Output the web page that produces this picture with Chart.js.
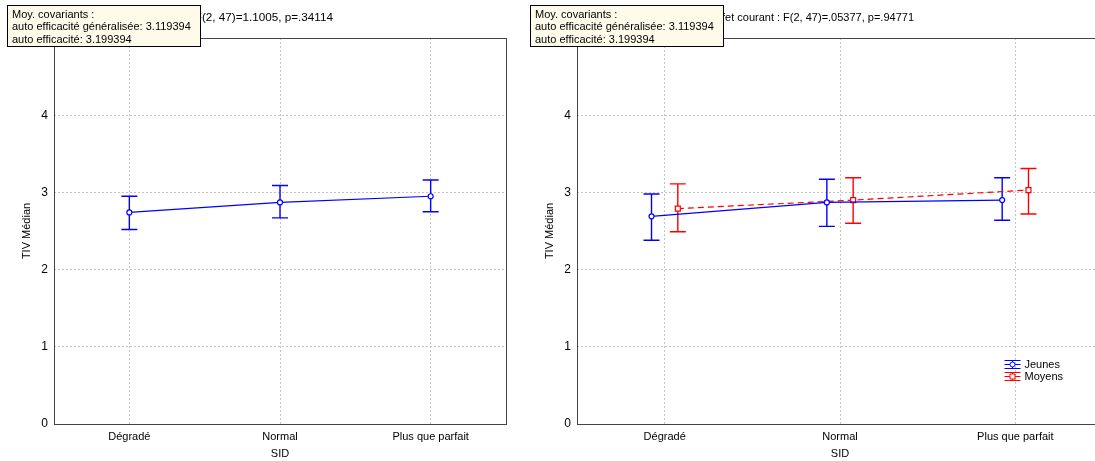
<!DOCTYPE html>
<html>
<head>
<meta charset="utf-8">
<script src="https://cdn.jsdelivr.net/npm/chart.js@4.4.0/dist/chart.umd.min.js"></script>
<style>
html, body { margin: 0; padding: 0; background: #fff; overflow: hidden; width: 1095px; height: 461px; }
#left { position: absolute; left: 0; top: 0; }
#right { position: absolute; left: 523px; top: 0; }
</style>
</head>
<body>
<canvas id="left" width="523" height="461"></canvas>
<canvas id="right" width="587" height="461"></canvas>
<script>
'use strict';

var categories = ['Dégradé', 'Normal', 'Plus que parfait'];
var yTicks = [0, 1, 2, 3, 4];

// left panel: all subjects
var allMean = [2.74, 2.87, 2.95];
var allLow = [2.52, 2.67, 2.75];
var allHigh = [2.95, 3.09, 3.16];

// right panel: by age group
var groupLabels = ['Jeunes', 'Moyens'];
var jeunesMean = [2.69, 2.87, 2.90];
var jeunesLow = [2.38, 2.56, 2.64];
var jeunesHigh = [2.98, 3.17, 3.19];
var moyensMean = [2.79, 2.90, 3.03];
var moyensLow = [2.49, 2.60, 2.72];
var moyensHigh = [3.11, 3.19, 3.31];

var covariateLines = ['Moy. covariants :', 'auto efficacité généralisée: 3.119394', 'auto efficacité: 3.199394'];
var leftTitle = 'Effet courant : F(2, 47)=1.1005, p=.34114';
var rightTitle = 'Effet courant : F(2, 47)=.05377, p=.94771';

var FONT = '"Liberation Sans", Arial, sans-serif';
var font11 = { family: FONT, size: 11 };
var BLUE = '#0000ff';
var RED = '#ff0000';

function toPoints(means, shift) {
    return means.map(function(v, i) { return { x: i + shift, y: v }; });
}

// frame, error bars, title, covariate box and legend
var statPlugin = {
    id: 'statBits',
    beforeDatasetsDraw: function(chart) {
        var ctx = chart.ctx, a = chart.chartArea, yS = chart.scales.y;
        ctx.save();
        ctx.strokeStyle = '#454545';
        ctx.lineWidth = 1;
        ctx.strokeRect(Math.round(a.left) + 0.5, Math.round(a.top) + 0.5,
            Math.round(a.right - a.left), Math.round(a.bottom - a.top));
        chart.data.datasets.forEach(function(ds, di) {
            var meta = chart.getDatasetMeta(di);
            ctx.strokeStyle = ds.borderColor;
            ctx.lineWidth = 1.4;
            meta.data.forEach(function(pt, i) {
                var x = pt.x;
                var yl = yS.getPixelForValue(ds.errLow[i]);
                var yh = yS.getPixelForValue(ds.errHigh[i]);
                ctx.beginPath();
                ctx.moveTo(x, yl); ctx.lineTo(x, yh);
                ctx.moveTo(x - 8, yl); ctx.lineTo(x + 8, yl);
                ctx.moveTo(x - 8, yh); ctx.lineTo(x + 8, yh);
                ctx.stroke();
            });
        });
        ctx.restore();
    },
    afterDraw: function(chart, args, opts) {
        var ctx = chart.ctx, a = chart.chartArea;
        ctx.save();
        ctx.font = opts.titleSize + 'px ' + FONT;
        ctx.fillStyle = '#000';
        ctx.textBaseline = 'middle';
        ctx.textAlign = 'right';
        ctx.fillText(opts.title, a.left + opts.titleRight, 18);

        ctx.font = '11px ' + FONT;
        ctx.fillStyle = '#fffbea';
        ctx.fillRect(7, 5, 193, 41);
        ctx.strokeStyle = '#000';
        ctx.lineWidth = 1;
        ctx.strokeRect(7.5, 5.5, 193, 41);
        ctx.fillStyle = '#000';
        ctx.textAlign = 'left';
        covariateLines.forEach(function(t, i) {
            ctx.fillText(t, 12, 15 + i * 12.3);
        });

        if (opts.legend) {
            var cx = Math.round(a.right - 91) + 0.5;
            chart.data.datasets.forEach(function(ds, i) {
                var cy = Math.round(a.bottom - 60 + i * 11.5) + 0.5;
                ctx.strokeStyle = ds.borderColor;
                ctx.beginPath();
                ctx.moveTo(cx - 8, cy - 4); ctx.lineTo(cx + 8, cy - 4);
                ctx.moveTo(cx - 8, cy + 4); ctx.lineTo(cx + 8, cy + 4);
                ctx.moveTo(cx, cy - 4); ctx.lineTo(cx, cy + 4);
                ctx.stroke();
                ctx.setLineDash(ds.borderDash || []);
                ctx.beginPath();
                ctx.moveTo(cx - 8, cy); ctx.lineTo(cx + 8, cy);
                ctx.stroke();
                ctx.setLineDash([]);
                ctx.fillStyle = '#fff';
                ctx.beginPath();
                if (ds.pointStyle === 'rect') ctx.rect(cx - 2.5, cy - 2.5, 5, 5);
                else ctx.arc(cx, cy, 2.5, 0, Math.PI * 2);
                ctx.fill(); ctx.stroke();
                ctx.fillStyle = '#000';
                ctx.fillText(ds.label, cx + 12, cy);
            });
        }
        ctx.restore();
    }
};

function makeChart(id, datasets, padRight, opts) {
    return new Chart(document.getElementById(id).getContext('2d'), {
        type: 'line',
        data: { datasets: datasets },
        plugins: [statPlugin],
        options: {
            responsive: false,
            animation: false,
            devicePixelRatio: 1,
            layout: { padding: { top: 38, right: padRight, left: 0, bottom: 0 } },
            plugins: { legend: { display: false }, tooltip: { enabled: false }, statBits: opts },
            scales: {
                x: {
                    type: 'linear', min: -0.5, max: 2.5,
                    afterBuildTicks: function(s) { s.ticks = categories.map(function(c, i) { return { value: i }; }); },
                    afterFit: function(s) { s.height = 37; },
                    ticks: { callback: function(v) { return categories[v]; }, font: font11, color: '#000', padding: 6, maxRotation: 0, autoSkip: false },
                    grid: { color: '#c4c4c4', drawTicks: false, lineWidth: 1 },
                    border: { display: false, dash: [2, 2] },
                    title: { display: true, text: 'SID', font: font11, color: '#000', padding: { top: 0, bottom: 0 } }
                },
                y: {
                    min: 0, max: 5,
                    afterBuildTicks: function(s) { s.ticks = yTicks.map(function(v) { return { value: v }; }); },
                    afterFit: function(s) { s.width = 54; },
                    ticks: { font: { family: FONT, size: 12 }, color: '#000', padding: 6 },
                    grid: { color: '#c4c4c4', drawTicks: false, lineWidth: 1 },
                    border: { display: false, dash: [2, 2] },
                    title: { display: true, text: 'TIV Médian', font: font11, color: '#000', padding: { top: 20, bottom: 0 } }
                }
            }
        }
    });
}

makeChart('left', [{
    label: 'Tous',
    data: toPoints(allMean, 0),
    errLow: allLow, errHigh: allHigh,
    borderColor: BLUE, borderWidth: 1.2,
    pointStyle: 'circle', pointRadius: 2.5, pointBackgroundColor: '#fff', pointBorderColor: BLUE, pointBorderWidth: 1.2
}], 17, { title: leftTitle, titleSize: 11.7, titleRight: 279, legend: false });

makeChart('right', [{
    label: groupLabels[0],
    data: toPoints(jeunesMean, -0.075),
    errLow: jeunesLow, errHigh: jeunesHigh,
    borderColor: BLUE, borderWidth: 1.2,
    pointStyle: 'circle', pointRadius: 2.5, pointBackgroundColor: '#fff', pointBorderColor: BLUE, pointBorderWidth: 1.2
}, {
    label: groupLabels[1],
    data: toPoints(moyensMean, 0.075),
    errLow: moyensLow, errHigh: moyensHigh,
    borderColor: RED, borderWidth: 1.2, borderDash: [6, 4],
    pointStyle: 'rect', pointRadius: 3.5, pointBackgroundColor: '#fff', pointBorderColor: RED, pointBorderWidth: 1.2
}], 7, { title: rightTitle, titleSize: 11, titleRight: 337, legend: true });
</script>
</body>
</html>
